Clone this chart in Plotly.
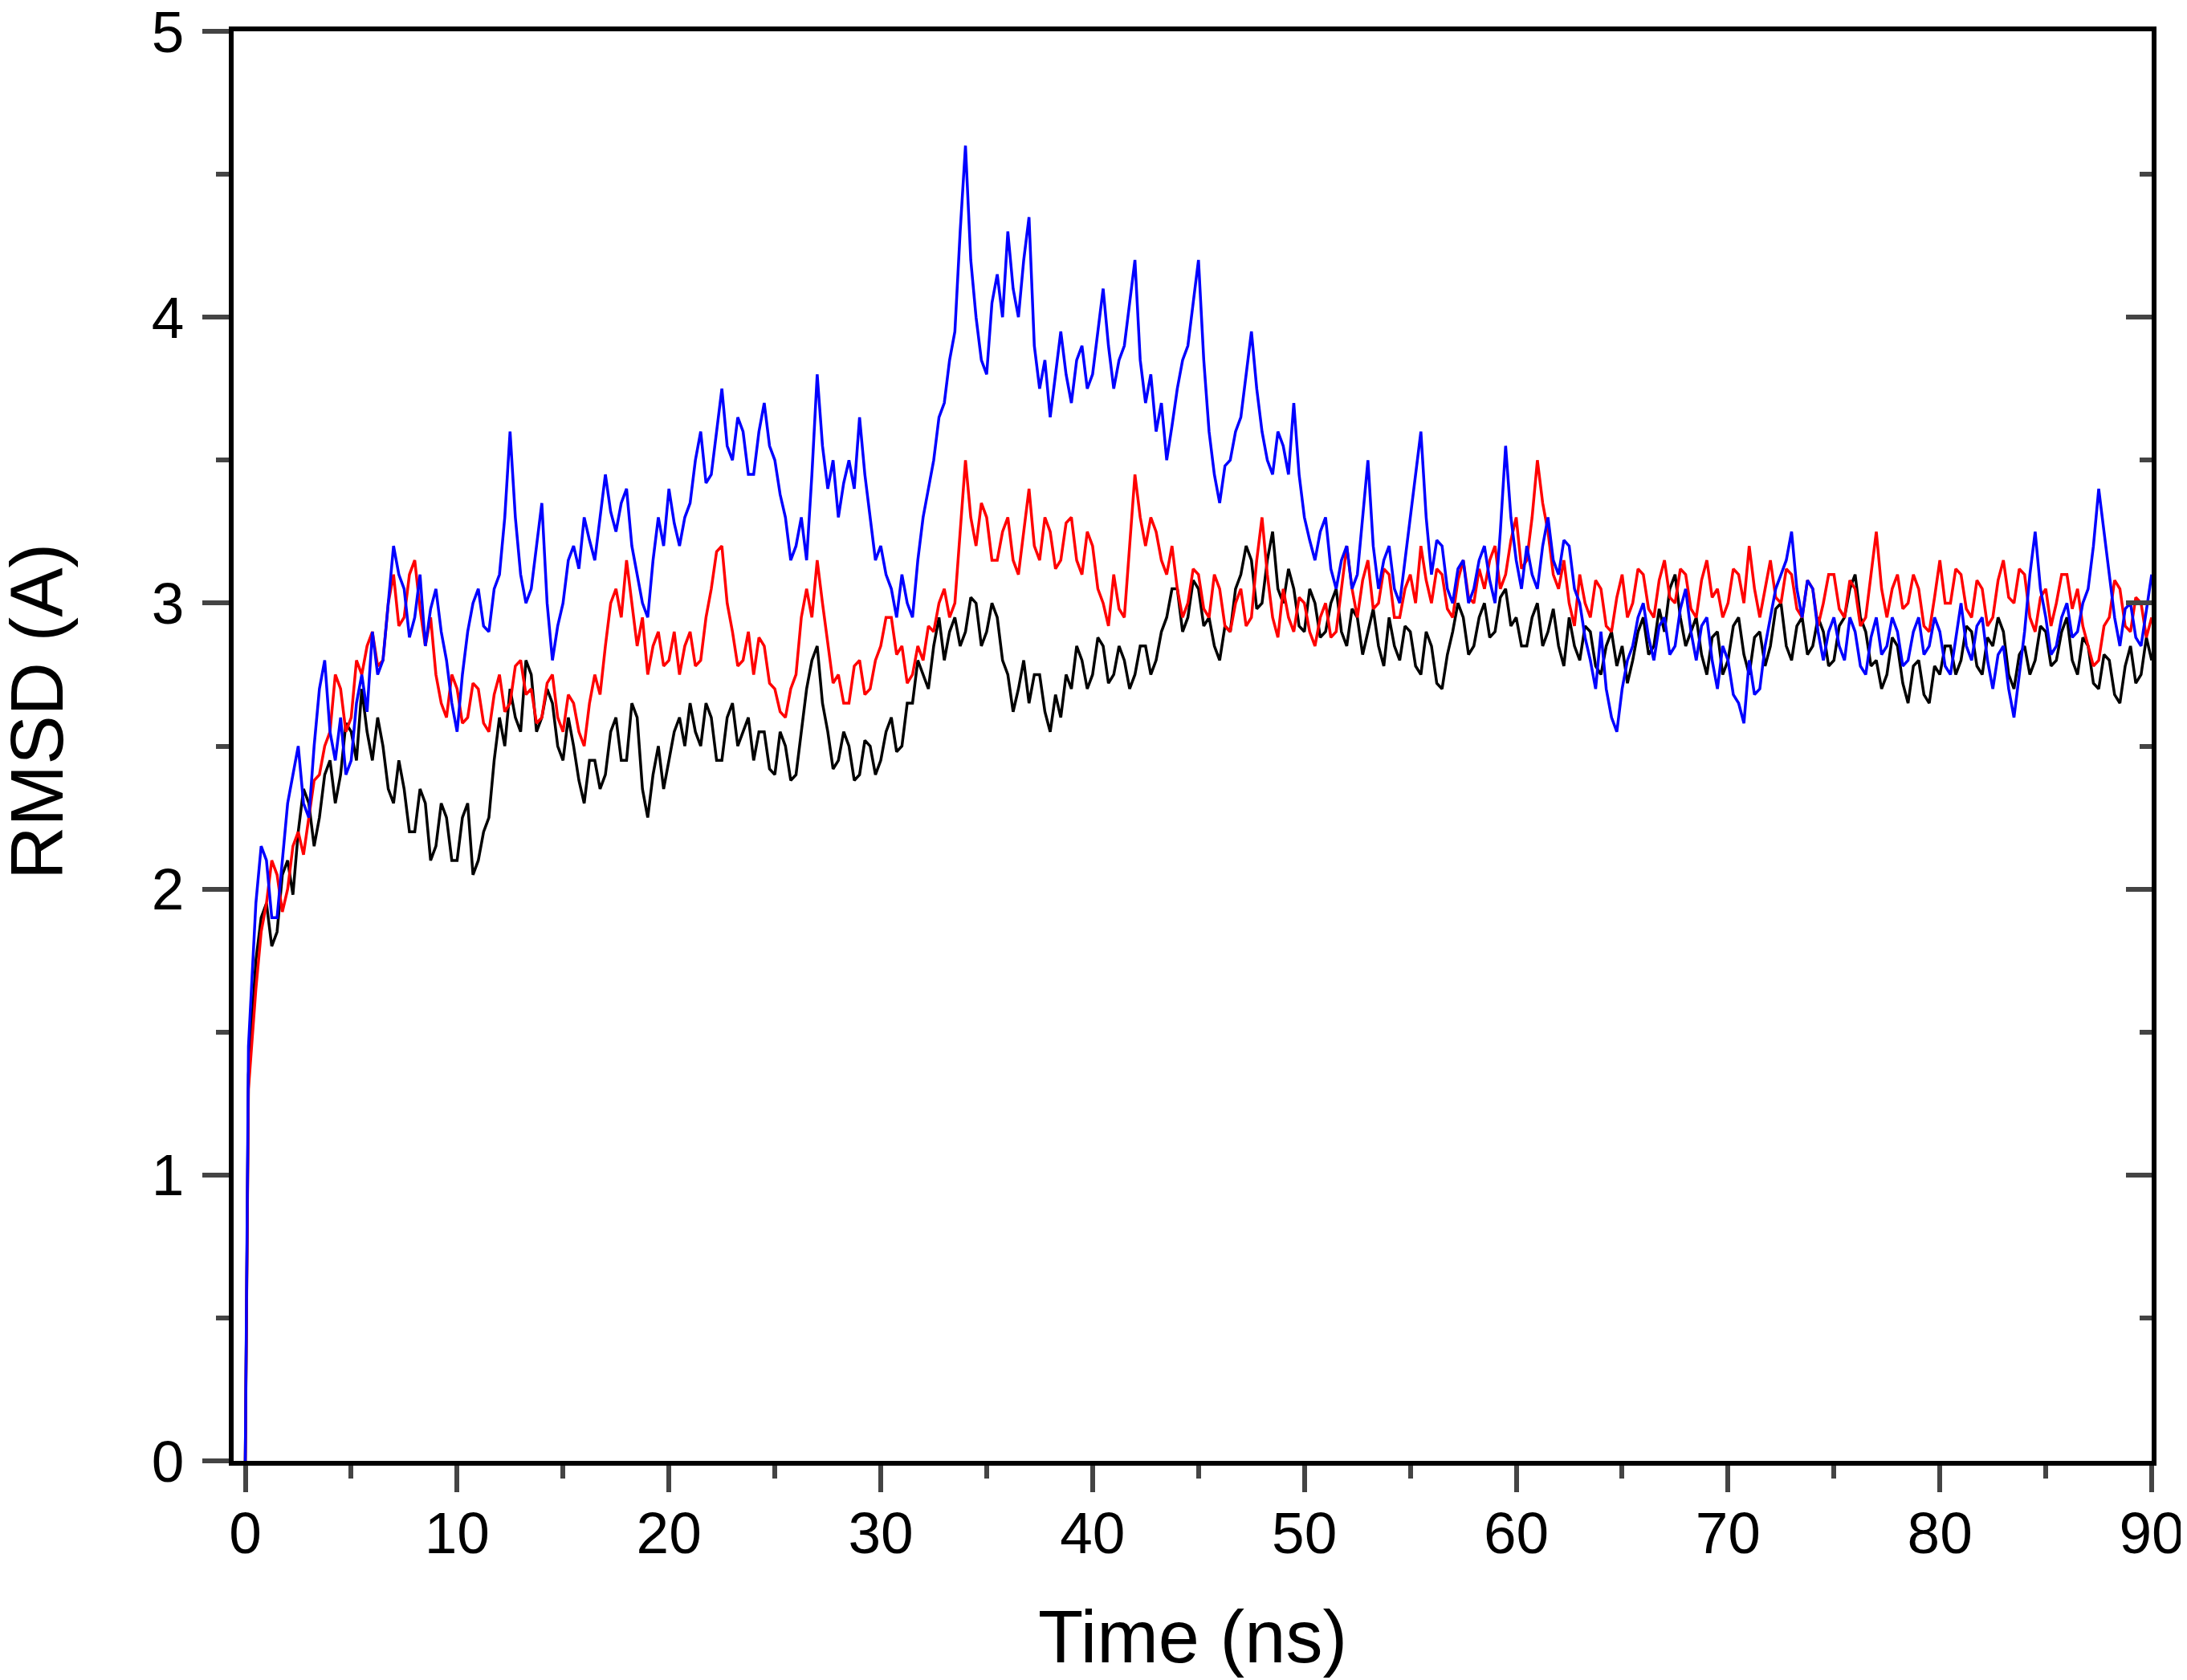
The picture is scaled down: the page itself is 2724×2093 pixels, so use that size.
import numpy as np
import plotly.graph_objects as go

# time axis (ns): first frame, one early frame, then every 0.25 ns up to 90 ns
time_ns = [0.0, 0.15] + list(np.arange(0.5, 90.001, 0.25))

# RMSD (A), 0.25 ns apart (rows of 5 ns)
rmsd_black = [
    0.0, 1.35,
    1.75, 1.9, 1.95, 1.8, 1.85, 2.05, 2.1, 1.98, 2.2, 2.35, 2.3, 2.15, 2.25, 2.4, 2.45, 2.3, 2.4, 2.58, 2.55, 2.45,
    2.7, 2.55, 2.45, 2.6, 2.5, 2.35, 2.3, 2.45, 2.35, 2.2, 2.2, 2.35, 2.3, 2.1, 2.15, 2.3, 2.25, 2.1, 2.1, 2.25,
    2.3, 2.05, 2.1, 2.2, 2.25, 2.45, 2.6, 2.5, 2.7, 2.6, 2.55, 2.8, 2.75, 2.55, 2.6, 2.7, 2.65, 2.5, 2.45, 2.6,
    2.5, 2.38, 2.3, 2.45, 2.45, 2.35, 2.4, 2.55, 2.6, 2.45, 2.45, 2.65, 2.6, 2.35, 2.25, 2.4, 2.5, 2.35, 2.45, 2.55,
    2.6, 2.5, 2.65, 2.55, 2.5, 2.65, 2.6, 2.45, 2.45, 2.6, 2.65, 2.5, 2.55, 2.6, 2.45, 2.55, 2.55, 2.42, 2.4, 2.55,
    2.5, 2.38, 2.4, 2.55, 2.7, 2.8, 2.85, 2.65, 2.55, 2.42, 2.45, 2.55, 2.5, 2.38, 2.4, 2.52, 2.5, 2.4, 2.45, 2.55,
    2.6, 2.48, 2.5, 2.65, 2.65, 2.8, 2.75, 2.7, 2.85, 2.95, 2.8, 2.9, 2.95, 2.85, 2.9, 3.02, 3.0, 2.85, 2.9, 3.0,
    2.95, 2.8, 2.75, 2.62, 2.7, 2.8, 2.65, 2.75, 2.75, 2.62, 2.55, 2.68, 2.6, 2.75, 2.7, 2.85, 2.8, 2.7, 2.75, 2.88,
    2.85, 2.72, 2.75, 2.85, 2.8, 2.7, 2.75, 2.85, 2.85, 2.75, 2.8, 2.9, 2.95, 3.05, 3.05, 2.9, 2.95, 3.08, 3.05, 2.92,
    2.95, 2.85, 2.8, 2.92, 2.9, 3.05, 3.1, 3.2, 3.15, 2.98, 3.0, 3.15, 3.25, 3.05, 3.0, 3.12, 3.05, 2.92, 2.9, 3.05,
    3.0, 2.88, 2.9, 3.0, 3.05, 2.9, 2.85, 2.98, 2.95, 2.82, 2.9, 2.98, 2.85, 2.78, 2.95, 2.85, 2.8, 2.92, 2.9, 2.78,
    2.75, 2.9, 2.85, 2.72, 2.7, 2.82, 2.9, 3.0, 2.95, 2.82, 2.85, 2.95, 3.0, 2.88, 2.9, 3.02, 3.05, 2.92, 2.95, 2.85,
    2.85, 2.95, 3.0, 2.85, 2.9, 2.98, 2.85, 2.78, 2.95, 2.85, 2.8, 2.92, 2.9, 2.78, 2.75, 2.85, 2.9, 2.78, 2.85, 2.72,
    2.8, 2.9, 2.95, 2.82, 2.85, 2.98, 2.9, 3.05, 3.1, 2.95, 2.85, 2.9, 2.95, 2.82, 2.75, 2.88, 2.9, 2.75, 2.8, 2.92,
    2.95, 2.82, 2.75, 2.88, 2.9, 2.78, 2.85, 2.98, 3.0, 2.85, 2.8, 2.92, 2.95, 2.82, 2.85, 2.95, 2.9, 2.78, 2.8, 2.92,
    2.95, 3.05, 3.1, 2.95, 2.9, 2.78, 2.8, 2.7, 2.75, 2.88, 2.85, 2.72, 2.65, 2.78, 2.8, 2.68, 2.65, 2.78, 2.75, 2.85,
    2.85, 2.75, 2.8, 2.92, 2.9, 2.78, 2.75, 2.88, 2.85, 2.95, 2.9, 2.75, 2.7, 2.82, 2.85, 2.75, 2.8, 2.92, 2.9, 2.78,
    2.8, 2.9, 2.95, 2.8, 2.75, 2.88, 2.85, 2.72, 2.7, 2.82, 2.8, 2.68, 2.65, 2.78, 2.85, 2.72, 2.75, 2.88, 2.8,
]
rmsd_red = [
    0.0, 1.3,
    1.65, 1.85, 1.95, 2.1, 2.05, 1.92, 2.0, 2.15, 2.2, 2.12, 2.25, 2.38, 2.4, 2.5, 2.55, 2.75, 2.7, 2.55, 2.6, 2.8,
    2.75, 2.85, 2.9, 2.78, 2.8, 3.0, 3.1, 2.92, 2.95, 3.1, 3.15, 2.98, 2.85, 2.95, 2.75, 2.65, 2.6, 2.75, 2.7, 2.58,
    2.6, 2.72, 2.7, 2.58, 2.55, 2.68, 2.75, 2.62, 2.65, 2.78, 2.8, 2.68, 2.7, 2.58, 2.6, 2.72, 2.75, 2.6, 2.55, 2.68,
    2.65, 2.55, 2.5, 2.65, 2.75, 2.68, 2.85, 3.0, 3.05, 2.95, 3.15, 3.0, 2.85, 2.95, 2.75, 2.85, 2.9, 2.78, 2.8, 2.9,
    2.75, 2.85, 2.9, 2.78, 2.8, 2.95, 3.05, 3.18, 3.2, 3.0, 2.9, 2.78, 2.8, 2.9, 2.75, 2.88, 2.85, 2.72, 2.7, 2.62,
    2.6, 2.7, 2.75, 2.95, 3.05, 2.95, 3.15, 3.0, 2.85, 2.72, 2.75, 2.65, 2.65, 2.78, 2.8, 2.68, 2.7, 2.8, 2.85, 2.95,
    2.95, 2.82, 2.85, 2.72, 2.75, 2.85, 2.8, 2.92, 2.9, 3.0, 3.05, 2.95, 3.0, 3.25, 3.5, 3.3, 3.2, 3.35, 3.3, 3.15,
    3.15, 3.25, 3.3, 3.15, 3.1, 3.25, 3.4, 3.2, 3.15, 3.3, 3.25, 3.12, 3.15, 3.28, 3.3, 3.15, 3.1, 3.25, 3.2, 3.05,
    3.0, 2.92, 3.1, 2.98, 2.95, 3.2, 3.45, 3.3, 3.2, 3.3, 3.25, 3.15, 3.1, 3.2, 3.05, 2.95, 3.0, 3.12, 3.1, 2.98,
    2.95, 3.1, 3.05, 2.92, 2.9, 3.0, 3.05, 2.92, 2.95, 3.15, 3.3, 3.1, 2.95, 2.88, 3.05, 2.95, 2.9, 3.02, 3.0, 2.9,
    2.85, 2.95, 3.0, 2.88, 2.9, 3.05, 3.2, 3.05, 2.95, 3.08, 3.15, 2.98, 3.0, 3.12, 3.1, 2.95, 2.95, 3.05, 3.1, 3.0,
    3.2, 3.08, 3.0, 3.12, 3.1, 2.98, 2.95, 3.08, 3.15, 3.02, 3.0, 3.12, 3.05, 3.15, 3.2, 3.05, 3.1, 3.22, 3.3, 3.12,
    3.15, 3.3, 3.5, 3.35, 3.25, 3.1, 3.05, 3.15, 3.0, 2.92, 3.1, 3.0, 2.95, 3.08, 3.05, 2.92, 2.9, 3.02, 3.1, 2.95,
    3.0, 3.12, 3.1, 2.98, 2.95, 3.08, 3.15, 3.02, 3.0, 3.12, 3.1, 2.98, 2.95, 3.08, 3.15, 3.02, 3.05, 2.95, 3.0, 3.12,
    3.1, 3.0, 3.2, 3.05, 2.95, 3.05, 3.15, 3.02, 3.0, 3.12, 3.1, 2.98, 2.95, 3.08, 3.05, 2.92, 3.0, 3.1, 3.1, 2.98,
    2.95, 3.08, 3.05, 2.92, 2.95, 3.1, 3.25, 3.05, 2.95, 3.05, 3.1, 2.98, 3.0, 3.1, 3.05, 2.92, 2.9, 3.02, 3.15, 3.0,
    3.0, 3.12, 3.1, 2.98, 2.95, 3.08, 3.05, 2.92, 2.95, 3.08, 3.15, 3.02, 3.0, 3.12, 3.1, 2.95, 2.9, 3.02, 3.05, 2.92,
    3.0, 3.1, 3.1, 2.98, 3.05, 2.92, 2.85, 2.78, 2.8, 2.92, 2.95, 3.08, 3.05, 2.92, 2.9, 3.02, 3.0, 2.88, 2.95,
]
rmsd_blue = [
    0.0, 1.45,
    1.95, 2.15, 2.1, 1.9, 1.9, 2.1, 2.3, 2.4, 2.5, 2.3, 2.25, 2.5, 2.7, 2.8, 2.55, 2.45, 2.6, 2.4, 2.45, 2.65,
    2.75, 2.62, 2.9, 2.75, 2.8, 3.0, 3.2, 3.1, 3.05, 2.88, 2.95, 3.1, 2.85, 2.98, 3.05, 2.9, 2.8, 2.65, 2.55, 2.75,
    2.9, 3.0, 3.05, 2.92, 2.9, 3.05, 3.1, 3.3, 3.6, 3.3, 3.1, 3.0, 3.05, 3.2, 3.35, 3.0, 2.8, 2.92, 3.0, 3.15,
    3.2, 3.12, 3.3, 3.22, 3.15, 3.3, 3.45, 3.32, 3.25, 3.35, 3.4, 3.2, 3.1, 3.0, 2.95, 3.15, 3.3, 3.2, 3.4, 3.28,
    3.2, 3.3, 3.35, 3.5, 3.6, 3.42, 3.45, 3.6, 3.75, 3.55, 3.5, 3.65, 3.6, 3.45, 3.45, 3.6, 3.7, 3.55, 3.5, 3.38,
    3.3, 3.15, 3.2, 3.3, 3.15, 3.45, 3.8, 3.55, 3.4, 3.5, 3.3, 3.42, 3.5, 3.4, 3.65, 3.45, 3.3, 3.15, 3.2, 3.1,
    3.05, 2.95, 3.1, 3.0, 2.95, 3.15, 3.3, 3.4, 3.5, 3.65, 3.7, 3.85, 3.95, 4.3, 4.6, 4.2, 4.0, 3.85, 3.8, 4.05,
    4.15, 4.0, 4.3, 4.1, 4.0, 4.2, 4.35, 3.9, 3.75, 3.85, 3.65, 3.8, 3.95, 3.8, 3.7, 3.85, 3.9, 3.75, 3.8, 3.95,
    4.1, 3.9, 3.75, 3.85, 3.9, 4.05, 4.2, 3.85, 3.7, 3.8, 3.6, 3.7, 3.5, 3.62, 3.75, 3.85, 3.9, 4.05, 4.2, 3.85,
    3.6, 3.45, 3.35, 3.48, 3.5, 3.6, 3.65, 3.8, 3.95, 3.75, 3.6, 3.5, 3.45, 3.6, 3.55, 3.45, 3.7, 3.45, 3.3, 3.22,
    3.15, 3.25, 3.3, 3.12, 3.05, 3.15, 3.2, 3.05, 3.1, 3.3, 3.5, 3.2, 3.05, 3.15, 3.2, 3.05, 3.0, 3.15, 3.3, 3.45,
    3.6, 3.3, 3.1, 3.22, 3.2, 3.05, 3.0, 3.12, 3.15, 3.0, 3.05, 3.15, 3.2, 3.08, 3.0, 3.25, 3.55, 3.3, 3.15, 3.05,
    3.2, 3.1, 3.05, 3.2, 3.3, 3.15, 3.1, 3.22, 3.2, 3.05, 3.0, 2.88, 2.8, 2.7, 2.9, 2.7, 2.6, 2.55, 2.7, 2.8,
    2.85, 2.95, 3.0, 2.88, 2.8, 2.92, 2.95, 2.82, 2.85, 2.98, 3.05, 2.9, 2.8, 2.92, 2.95, 2.8, 2.7, 2.85, 2.8, 2.68,
    2.65, 2.58, 2.8, 2.68, 2.7, 2.85, 2.95, 3.05, 3.1, 3.15, 3.25, 3.05, 2.95, 3.08, 3.05, 2.9, 2.8, 2.9, 2.95, 2.85,
    2.8, 2.95, 2.9, 2.78, 2.75, 2.88, 2.95, 2.82, 2.85, 2.95, 2.9, 2.78, 2.8, 2.9, 2.95, 2.82, 2.85, 2.95, 2.9, 2.78,
    2.75, 2.88, 3.0, 2.85, 2.8, 2.92, 2.95, 2.8, 2.7, 2.82, 2.85, 2.7, 2.6, 2.75, 2.9, 3.1, 3.25, 3.05, 2.95, 2.82,
    2.85, 2.95, 3.0, 2.88, 2.9, 3.0, 3.05, 3.2, 3.4, 3.25, 3.1, 2.95, 2.85, 2.98, 3.0, 2.88, 2.85, 2.98, 3.1,
]

x_ticks = [0, 10, 20, 30, 40, 50, 60, 70, 80, 90]
y_ticks = [0, 1, 2, 3, 4, 5]

for s in (rmsd_black, rmsd_red, rmsd_blue):
    assert len(s) == len(time_ns), (len(s), len(time_ns))

font_name = "Liberation Sans, Arial, sans-serif"

fig = go.Figure()
for vals, col in [(rmsd_black, "#000000"), (rmsd_red, "#ff0000"), (rmsd_blue, "#0000ff")]:
    fig.add_trace(go.Scatter(x=time_ns, y=vals, mode="lines",
                             line=dict(color=col, width=3.5), showlegend=False))
# empty trace so the right-hand tick axis gets drawn
fig.add_trace(go.Scatter(x=[], y=[], yaxis="y2", showlegend=False, hoverinfo="skip"))

fig.update_layout(
    width=2724, height=2093,
    margin=dict(l=283, r=52, t=31, b=281),
    paper_bgcolor="white", plot_bgcolor="white",
    font=dict(family=font_name, color="black"),
    xaxis=dict(
        range=[-0.55, 90], tickvals=x_ticks, ticks="outside", ticklen=33, tickwidth=6,
        minor=dict(dtick=5, tick0=0, ticks="outside", ticklen=16, tickwidth=6),
        showline=True, linewidth=6, linecolor="black", mirror=True,
        showgrid=False, zeroline=False, tickfont=dict(size=73), automargin=False,
        ticklabeloverflow="allow", ticklabelstandoff=-12,
    ),
    yaxis=dict(
        range=[0, 5], tickvals=y_ticks, ticks="outside", ticklen=33, tickwidth=6,
        minor=dict(dtick=0.5, tick0=0, ticks="outside", ticklen=16, tickwidth=6),
        showline=True, linewidth=6, linecolor="black", mirror=True,
        showgrid=False, zeroline=False, tickfont=dict(size=73), automargin=False,
        ticklabeloverflow="allow", ticklabelstandoff=8,
    ),
    # right side: ticks pointing into the plot, no labels
    yaxis2=dict(
        overlaying="y", side="right", anchor="x", range=[0, 5], tickvals=y_ticks,
        ticks="inside", ticklen=32, tickwidth=6, showticklabels=False, automargin=False,
        minor=dict(dtick=0.5, tick0=0, ticks="inside", ticklen=15, tickwidth=6),
        showline=False, showgrid=False, zeroline=False,
    ),
    annotations=[
        dict(text="Time (ns)", xref="paper", yref="paper", x=0.5, y=-0.123,
             xanchor="center", yanchor="middle", showarrow=False, font=dict(size=92)),
        dict(text="RMSD (A)", xref="paper", yref="paper", x=-0.1025, y=0.524,
             xanchor="center", yanchor="middle", textangle=-90, showarrow=False,
             font=dict(size=92)),
    ],
)

fig.write_html("out.html")
